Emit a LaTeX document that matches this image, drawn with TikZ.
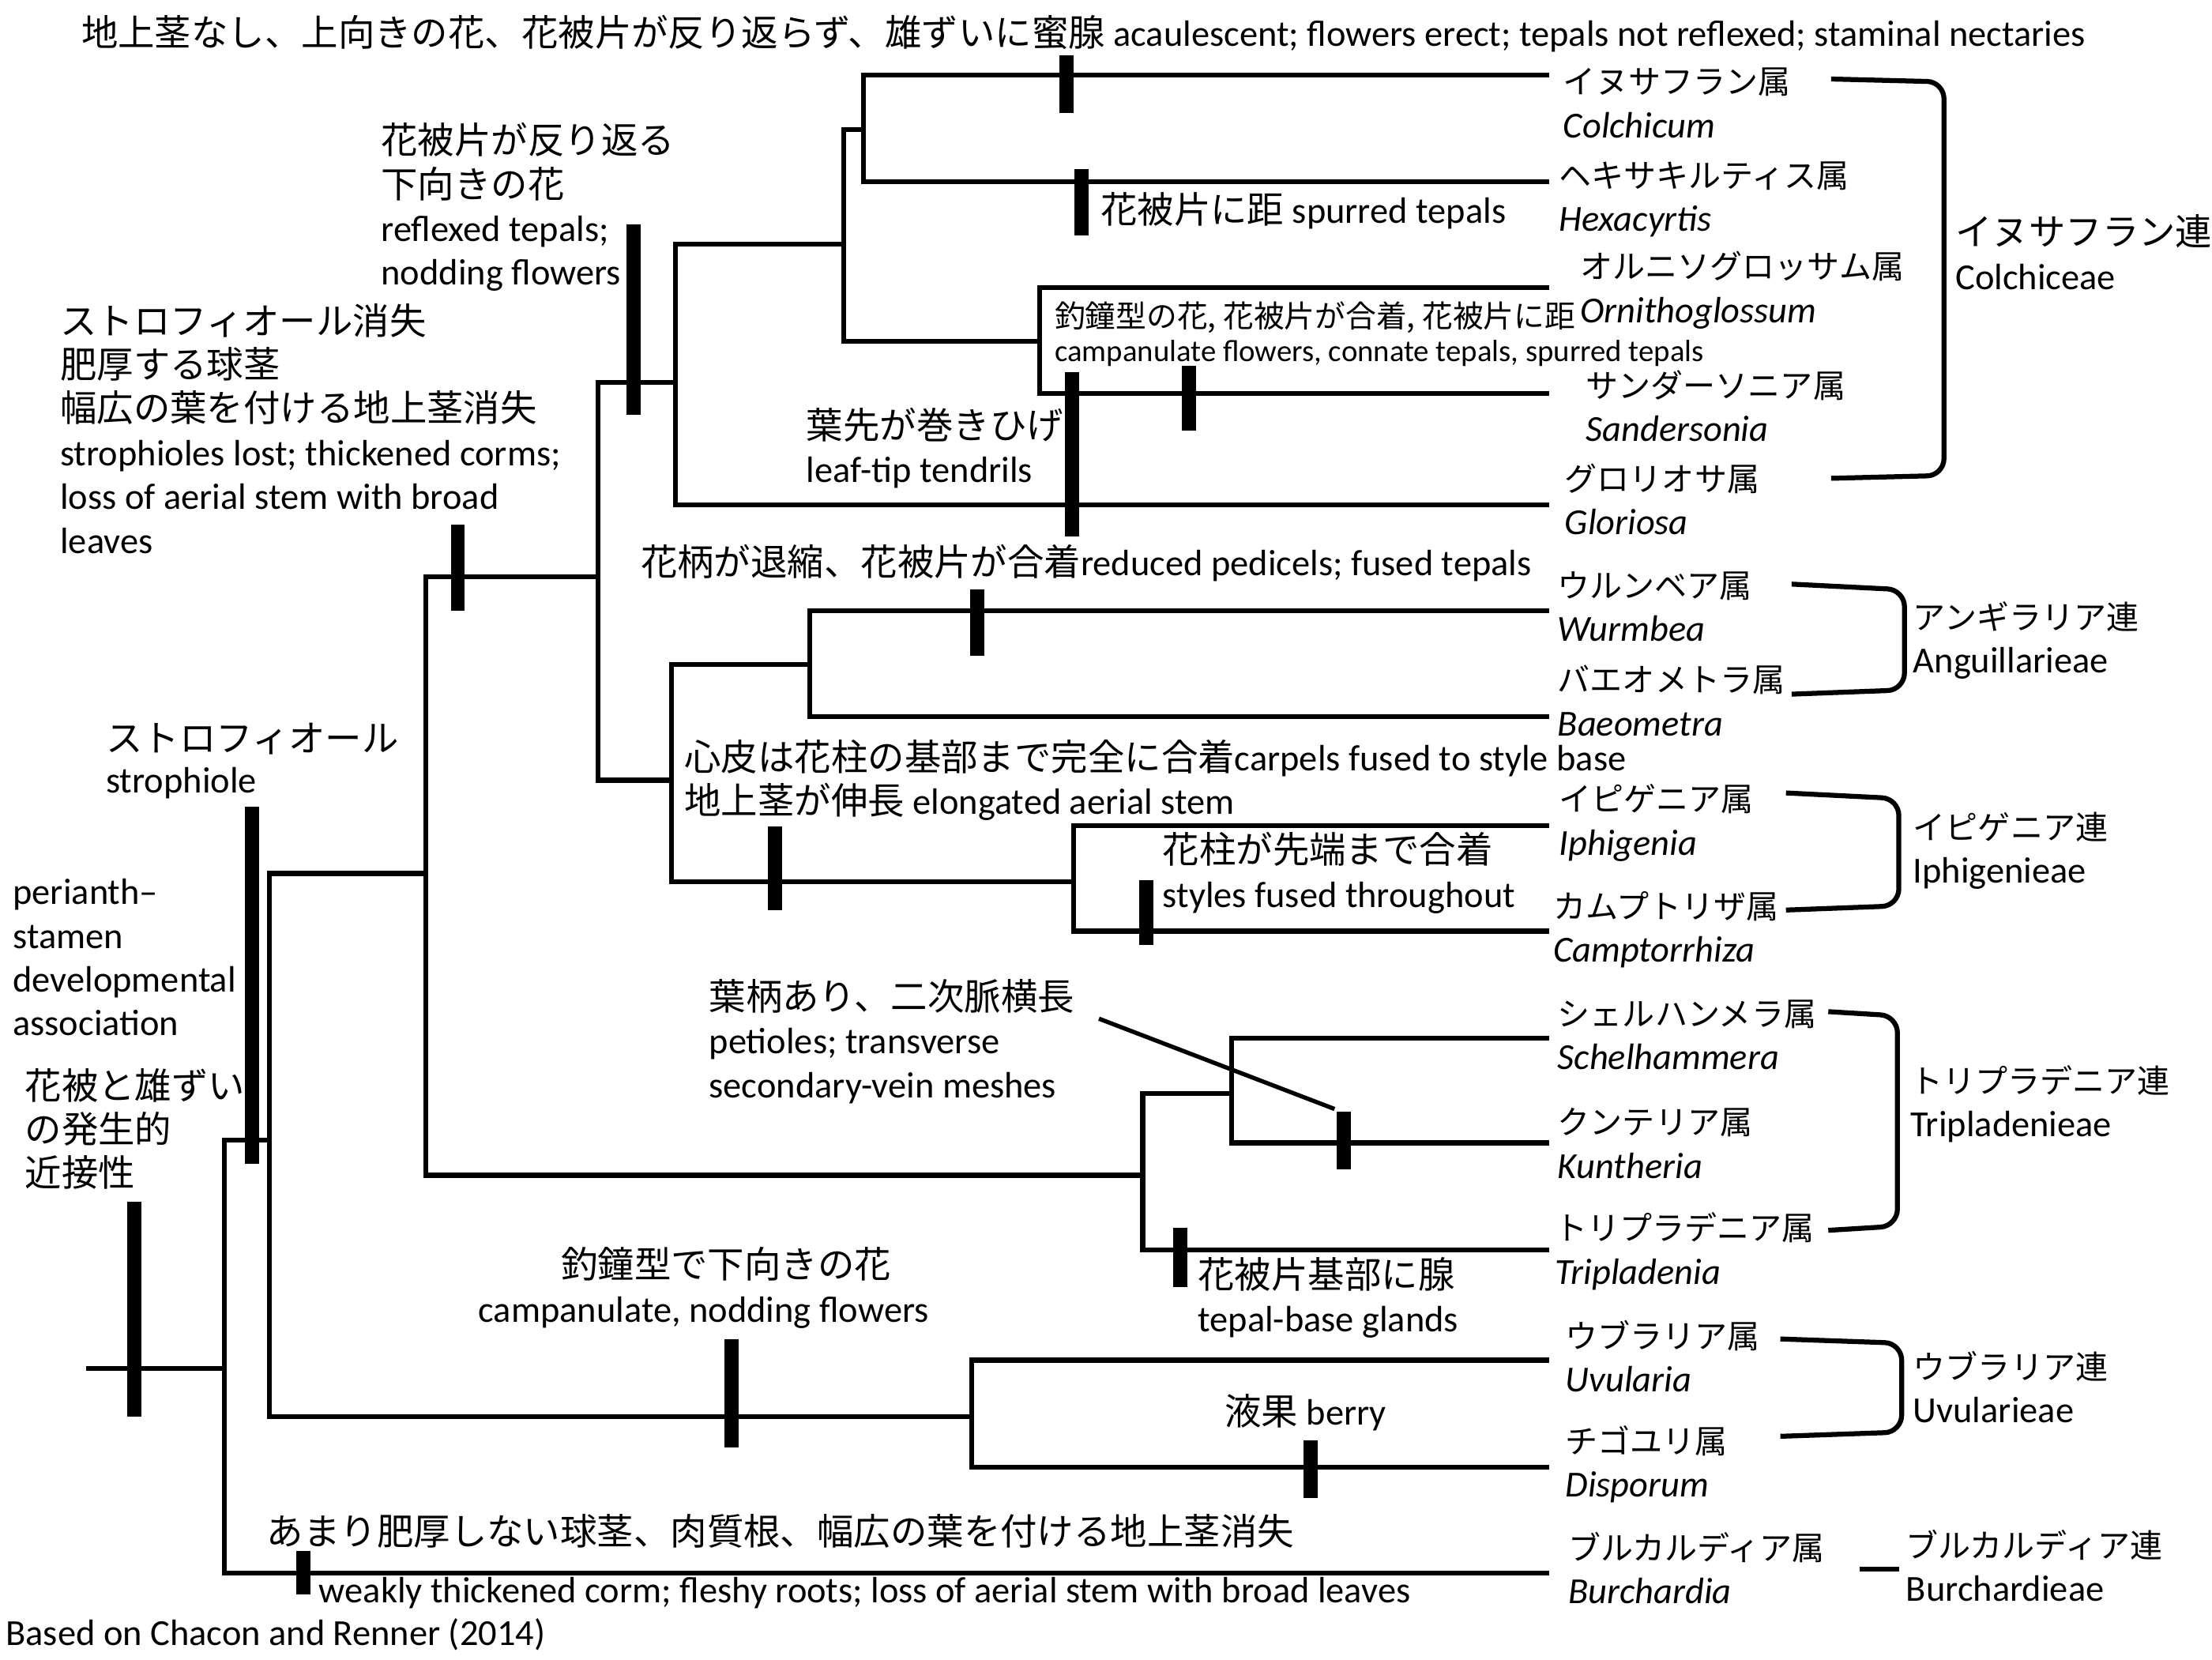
\documentclass[tikz,border=0pt]{standalone}
\usepackage{fontspec}
\setmainfont{Carlito}
\newfontfamily\jpfont{Noto Sans CJK JP}
\newcommand{\ja}[1]{{\jpfont #1}}
\newcommand{\gname}[1]{{\fontsize{23}{31}\selectfont\jpfont #1}}
\newcommand{\tname}[1]{{\fontsize{26}{31}\selectfont\jpfont #1}}

\tikzset{
  br/.style={line width=3.5pt},
  syn/.style={line width=10pt},
  brk/.style={line width=3.5pt, rounded corners=12pt},
  lbl/.style={inner sep=0pt, anchor=base west, align=left, font=\fontsize{26}{31}\selectfont},
  gen/.style={lbl},
}

\begin{document}
\begin{tikzpicture}[x=1pt, y=-1pt]
\useasboundingbox[fill=white] (0,0) rectangle (1568,1176);

% tips
\coordinate (tCol) at (1098,53);
\coordinate (tHex) at (1098,129);
\coordinate (tOrn) at (1098,204);
\coordinate (tSan) at (1098,279);
\coordinate (tGlo) at (1098,358);
\coordinate (tWur) at (1098,433);
\coordinate (tBae) at (1098,508);
\coordinate (tIph) at (1098,585);
\coordinate (tCam) at (1098,660);
\coordinate (tSch) at (1098,736);
\coordinate (tKun) at (1098,810);
\coordinate (tTri) at (1098,886);
\coordinate (tUvu) at (1098,964);
\coordinate (tDis) at (1098,1040);
\coordinate (tBur) at (1098,1115);

% inner nodes
\coordinate (r0) at (61,970);
\coordinate (nA) at (159,970);
\coordinate (nB) at (191,808);
\coordinate (nC) at (302,619);
\coordinate (nD) at (424,409);
\coordinate (nE) at (479,271);
\coordinate (nF) at (598,173);
\coordinate (nG) at (612,92);
\coordinate (nO) at (737,242);
\coordinate (nH) at (476,553);
\coordinate (nI) at (574,471);
\coordinate (nJ) at (761,625);
\coordinate (nK) at (810,833);
\coordinate (nL) at (873,775);
\coordinate (nM) at (689,1004);

% tree
\draw[br] (r0) -- (nA);
\draw[br] (nB) -| (nA) |- (tBur);
\draw[br] (nC) -| (nB) |- (nM);
\draw[br] (tUvu) -| (nM) |- (tDis);
\draw[br] (nD) -| (nC) |- (nK);
\draw[br] (nE) -| (nD) |- (nH);
\draw[br] (nF) -| (nE) |- (tGlo);
\draw[br] (nG) -| (nF) |- (nO);
\draw[br] (tCol) -| (nG) |- (tHex);
\draw[br] (tOrn) -| (nO) |- (tSan);
\draw[br] (nI) -| (nH) |- (nJ);
\draw[br] (tWur) -| (nI) |- (tBae);
\draw[br] (tIph) -| (nJ) |- (tCam);
\draw[br] (nL) -| (nK) |- (tTri);
\draw[br] (tSch) -| (nL) |- (tKun);

% character bars
\draw[syn] (95,852) -- (95,1004);
\draw[syn] (178.5,572) -- (178.5,825);
\draw[syn] (215,1099) -- (215,1130);
\draw[syn] (324.5,372) -- (324.5,433);
\draw[syn] (449,159) -- (449,294);
\draw[syn] (756,39) -- (756,80);
\draw[syn] (766.5,120) -- (766.5,167);
\draw[syn] (843,259) -- (843,305);
\draw[syn] (760,264) -- (760,380);
\draw[syn] (692.5,418) -- (692.5,465);
\draw[syn] (549.5,586) -- (549.5,645);
\draw[syn] (812.5,624) -- (812.5,670);
\draw[syn] (836.5,870) -- (836.5,912);
\draw[syn] (952.5,788) -- (952.5,829);
\draw[syn] (518.5,949) -- (518.5,1026);
\draw[syn] (929,1021) -- (929,1062);

% pointer to petiole bar
\coordinate (petStart) at (779,722);
\coordinate (petTip) at (946,786);
\draw[line width=3pt] (petStart) -- (petTip);

% character labels (base = last line)
\node[lbl] (tTitle) at (57.5,33) {\ja{地上茎なし、上向きの花、花被片が反り返らず、雄ずいに蜜腺} acaulescent; flowers erect; tepals not reflexed; staminal nectaries};
\node[lbl] (tRefl) at (270,202) {\ja{花被片が反り返る}\\\ja{下向きの花}\\reflexed tepals;\\nodding flowers};
\node[lbl] (tStroLost) at (42.5,392) {\ja{ストロフィオール消失}\\\ja{肥厚する球茎}\\\ja{幅広の葉を付ける地上茎消失}\\strophioles lost; thickened corms;\\loss of aerial stem with broad\\leaves};
\node[lbl, font=\fontsize{21.7}{24}\selectfont] (tCampSpur) at (747.5,256) {\ja{釣鐘型の花, 花被片が合着, 花被片に距}\\campanulate flowers, connate tepals, spurred tepals};
\node[lbl] (tTendril) at (571.5,342) {\ja{葉先が巻きひげ}\\leaf-tip tendrils};
\node[lbl] (tSpur) at (780,158) {\ja{花被片に距} spurred tepals};
\node[lbl] (tPedi) at (454,408) {\ja{花柄が退縮、花被片が合着}reduced pedicels; fused tepals};
\node[lbl] (tStro) at (75,562) {\ja{ストロフィオール}\\[-2pt]strophiole};
\node[lbl] (tCarp) at (485,577) {\ja{心皮は花柱の基部まで完全に合着}carpels fused to style base\\\ja{地上茎が伸長} elongated aerial stem};
\node[lbl] (tStyle) at (824,643) {\ja{花柱が先端まで合着}\\styles fused throughout};
\node[lbl] (tPeri) at (9,734) {perianth–\\stamen\\developmental\\association};
\node[lbl] (tPeriJ) at (17.5,841) {\ja{花被と雄ずい}\\\ja{の発生的}\\\ja{近接性}};
\node[lbl] (tPet) at (502.5,778) {\ja{葉柄あり、二次脈横長}\\petioles; transverse\\secondary-vein meshes};
\node[lbl] (tGland) at (849,944) {\ja{花被片基部に腺}\\tepal-base glands};
\node[lbl] (tBerry) at (868,1010) {\ja{液果} berry};
\node[lbl] (tNodJ) at (397.5,906) {\ja{釣鐘型で下向きの花}};
\node[lbl] (tNod) at (339,937) {campanulate, nodding flowers};
\node[lbl] (tWeakJ) at (189,1095) {\ja{あまり肥厚しない球茎、肉質根、幅広の葉を付ける地上茎消失}};
\node[lbl] (tWeak) at (226,1136) {weakly thickened corm; fleshy roots; loss of aerial stem with broad leaves};
\node[lbl] (tSrc) at (4,1166) {Based on Chacon and Renner (2014)};

% genera
\node[gen] (gCol) at (1108,97.5) {\gname{イヌサフラン属}\\\textit{Colchicum}};
\node[gen] (gHex) at (1105,164) {\gname{ヘキサキルティス属}\\\textit{Hexacyrtis}};
\node[gen] (gOrn) at (1120,228.5) {\gname{オルニソグロッサム属}\\\textit{Ornithoglossum}};
\node[gen] (gSan) at (1124,313) {\gname{サンダーソニア属}\\\textit{Sandersonia}};
\node[gen] (gGlo) at (1109,379) {\gname{グロリオサ属}\\\textit{Gloriosa}};
\node[gen] (gWur) at (1104,454.5) {\gname{ウルンベア属}\\\textit{Wurmbea}};
\node[gen] (gBae) at (1104,521.5) {\gname{バエオメトラ属}\\\textit{Baeometra}};
\node[gen] (gIph) at (1105,606) {\gname{イピゲニア属}\\\textit{Iphigenia}};
\node[gen] (gCam) at (1101,682) {\gname{カムプトリザ属}\\\textit{Camptorrhiza}};
\node[gen] (gSch) at (1104,758) {\gname{シェルハンメラ属}\\\textit{Schelhammera}};
\node[gen] (gKun) at (1104,835) {\gname{クンテリア属}\\\textit{Kuntheria}};
\node[gen] (gTri) at (1102,910) {\gname{トリプラデニア属}\\\textit{Tripladenia}};
\node[gen] (gUvu) at (1109.5,986.5) {\gname{ウブラリア属}\\\textit{Uvularia}};
\node[gen] (gDis) at (1109.5,1061) {\gname{チゴユリ属}\\\textit{Disporum}};
\node[gen] (gBur) at (1111.5,1136.5) {\gname{ブルカルディア属}\\\textit{Burchardia}};

% tribes
\node[gen] (trCol) at (1386,205) {\tname{イヌサフラン連}\\Colchiceae};
\node[gen] (trAng) at (1356,477) {\gname{アンギラリア連}\\Anguillarieae};
\node[gen] (trIph) at (1356,626) {\gname{イピゲニア連}\\Iphigenieae};
\node[gen] (trTri) at (1354,805.5) {\gname{トリプラデニア連}\\Tripladenieae};
\node[gen] (trUvu) at (1356,1008.5) {\gname{ウブラリア連}\\Uvularieae};
\node[gen] (trBur) at (1351,1135) {\gname{ブルカルディア連}\\Burchardieae};

% tribe brackets
\draw[brk] (1298,56) -- (1378,58) -- (1378,337) -- (1298,339);
\draw[brk] (1270,414) -- (1350,418) -- (1350,489) -- (1270,492);
\draw[brk] (1266,562) -- (1346,566) -- (1346,642) -- (1266,645);
\draw[brk] (1296,717) -- (1345,720) -- (1345,869) -- (1296,872);
\draw[brk] (1262,949) -- (1348,952) -- (1348,1015) -- (1262,1018);
\draw[br] (1318,1112) -- (1346,1112);
\end{tikzpicture}
\end{document}
